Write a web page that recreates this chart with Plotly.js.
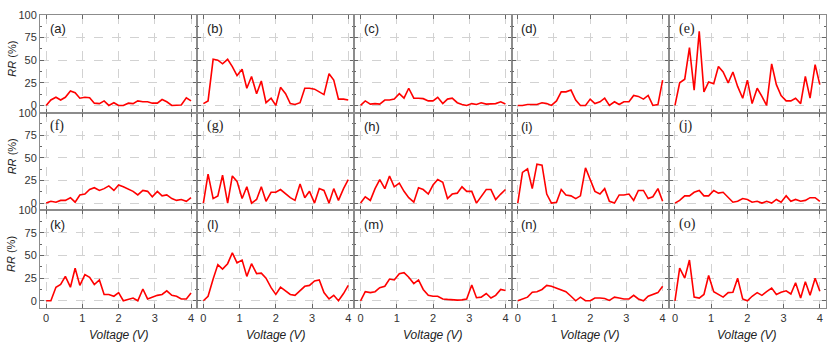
<!DOCTYPE html>
<html lang="en">
<head>
  <meta charset="UTF-8" />
  <title>RR vs Voltage</title>
  <script src="https://cdn.jsdelivr.net/npm/plotly.js-dist@3.0.1/plotly.min.js"></script>
  <style>
    body { margin: 0; background: #fff; }
    #chart { width: 830px; height: 343px; }
  </style>
</head>
<body>
<div id="chart"></div>
<script>
  // voltage steps shared by every panel
  const voltage = [0, 0.13, 0.27, 0.4, 0.53, 0.67, 0.8, 0.93, 1.07, 1.2, 1.33, 1.47, 1.6, 1.73, 1.87, 2,
    2.13, 2.27, 2.4, 2.53, 2.67, 2.8, 2.93, 3.07, 3.2, 3.33, 3.47, 3.6, 3.73, 3.87, 4];

  // RR (%)
  const rrA = [0, 6, 9, 6, 9, 16, 14, 8, 9, 8.5, 2.5, 2, 5, 0, 3, 0, 0, 2.5, 2, 5, 4, 4, 2.5, 2.5, 6.5, 4, 0, 0.5, 0.5, 8.5, 5];
  const rrB = [2, 5, 51, 50, 46, 51, 43, 33, 40, 19, 32, 13, 27, 3, 8, 0, 20, 13, 2, 1, 3, 19, 19, 18, 15, 12, 35, 28, 7, 7, 6];
  const rrC = [0, 5, 1.5, 2, 1.5, 6, 6, 7, 13, 8, 19, 8, 8, 7.5, 5, 5, 9, 2, 7, 8, 3, 1, 0, 2, 1, 3, 1.5, 1.5, 2, 4, 1.5];
  const rrD = [0, 0, 1, 1, 1, 3, 2, 0, 5, 15, 15, 17, 6, 0, 0, 7, 2, 4, 8, 0, 4, 1, 4, 4, 11, 10, 7, 11, 0, 1, 28];
  const rrE = [0, 25, 29, 64, 17, 82, 15, 26, 24, 43, 37, 25, 37, 21, 8, 28, 2, 19, 10, 0, 46, 23, 11, 5, 5, 8, 2, 32, 8, 45, 23];
  const rrF = [0, 2, 1, 3, 3, 6, 1, 9, 10, 15, 17, 14, 16, 19, 14, 20, 18, 15, 13, 9, 14, 13, 7, 13, 8, 9, 5, 3, 4, 2, 6];
  const rrG = [0, 32, 5, 8, 31, 0, 30, 24, 5, 18, 0, 4, 18, 2, 12, 12, 15, 10, 6, 3, 21, 6, 13, 0, 16, 14, 0, 16, 3, 16, 26];
  const rrH = [0, 7, 3, 16, 26, 16, 30, 18, 22, 13, 6, 1, 17, 15, 10, 20, 26, 23, 5, 10, 11, 18, 13, 13, 0, 7, 15, 15, 4, 10, 15];
  const rrI = [0, 34, 38, 16, 43, 42, 10, 0, 1, 15, 9, 8, 5, 8, 39, 27, 13, 10, 16, 2, 0, 9, 9, 10, 3, 14, 14, 5, 7, 16, 2];
  const rrJ = [0, 3, 8, 8, 12, 14, 8, 8, 14, 11, 12, 6, 1, 2, 5, 4, 1, 2, 0, 2, 0, 4, 1, 8, 2, 4, 2, 3, 6, 6, 2];
  const rrK = [0, 0, 15, 18, 27, 15, 36, 17, 29, 26, 18, 23, 7, 7, 5, 9, 0, 2, 3, 0, 13, 2, 4, 6, 7, 11, 6, 5, 2, 2, 8.5];
  const rrL = [0, 5, 24, 40, 35, 41, 53, 42, 45, 27, 41, 30, 30.5, 25, 14.5, 7, 15, 11, 7, 6, 11, 16, 17, 22, 23, 9, 2, 6, 0, 8, 17];
  const rrM = [0, 10, 9, 10, 14.4, 16, 24, 23, 30, 31, 26, 19, 23, 12.5, 6, 5, 5, 2, 1.5, 1, 0.7, 1, 2, 17.4, 3.4, 4, 8, 3, 6, 12.5, 11.4];
  const rrN = [0, 2, 4, 9.5, 10, 12.5, 17, 16, 14, 12, 10, 5, 0, 4, 0, 0, 3, 3, 2.5, 0.4, 4, 3, 2, 2, 6, 2, 0, 5, 7, 9, 16];
  const rrO = [0, 36, 25, 45, 4, 3, 7, 28, 10, 7, 4, 9, 9.5, 25, 2, 0, 5, 9, 6, 10, 14, 7, 9.5, 11, 7.5, 20, 3, 21, 6, 25, 10.5];

  const panelLabels = ['(a)', '(b)', '(c)', '(d)', '(e)', '(f)', '(g)', '(h)', '(i)', '(j)', '(k)', '(l)', '(m)', '(n)', '(o)'];
  const series = [rrA, rrB, rrC, rrD, rrE, rrF, rrG, rrH, rrI, rrJ, rrK, rrL, rrM, rrN, rrO];
  const xTicks = [0, 1, 2, 3, 4];
  const yTicks = [0, 25, 50, 75, 100];

  // a few panel letters are set in a serif face in the original
  const serifLabels = ['(e)', '(f)', '(g)', '(j)', '(o)'];

  const traces = [];
  const layout = {
    width: 830,
    height: 343,
    margin: { l: 40, r: 4, t: 15, b: 35 },
    paper_bgcolor: '#fff',
    plot_bgcolor: '#fff',
    showlegend: false,
    font: { family: 'Liberation Sans, Arial, sans-serif', size: 11, color: '#333' },
    annotations: []
  };

  series.forEach((ys, i) => {
    const row = Math.floor(i / 5);
    const col = i % 5;
    const s = i === 0 ? '' : String(i + 1);

    traces.push({
      x: voltage,
      y: ys,
      xaxis: 'x' + s,
      yaxis: 'y' + s,
      type: 'scatter',
      mode: 'lines',
      line: { color: '#ff0000', width: 1.6 },
      hoverinfo: 'x+y'
    });

    layout['xaxis' + s] = {
      domain: [col / 5, (col + 1) / 5],
      anchor: 'y' + s,
      range: [-0.17, 4.17],
      tickvals: xTicks,
      showticklabels: row === 2,
      ticks: 'inside',
      ticklen: 4,
      tickcolor: '#666',
      showline: true,
      linecolor: '#8c8c8c',
      linewidth: 1,
      mirror: 'ticks',
      showgrid: true,
      gridcolor: '#d2d2d2',
      griddash: 'dash',
      zeroline: false,
      tickfont: { size: 11, color: '#333' }
    };

    layout['yaxis' + s] = {
      domain: [1 - (row + 1) / 3, 1 - row / 3],
      anchor: 'x' + s,
      range: [-8, 100],
      tickvals: yTicks,
      showticklabels: col === 0,
      ticks: 'inside',
      ticklen: 4,
      tickcolor: '#666',
      minor: { dtick: 12.5, tick0: 0, ticks: 'inside', ticklen: 2, tickcolor: '#666', showgrid: false },
      showline: true,
      linecolor: '#8c8c8c',
      linewidth: 1,
      mirror: 'ticks',
      showgrid: true,
      gridcolor: '#d2d2d2',
      griddash: 'dash',
      zeroline: false,
      tickfont: { size: 11, color: '#333' }
    };

    const lbl = panelLabels[i];
    layout.annotations.push({
      text: lbl,
      xref: 'x' + s + ' domain',
      yref: 'y' + s + ' domain',
      x: 0.05,
      y: 0.86,
      xanchor: 'left',
      yanchor: 'middle',
      showarrow: false,
      font: {
        family: serifLabels.includes(lbl) ? 'Liberation Serif, serif' : 'Liberation Sans, Arial, sans-serif',
        size: serifLabels.includes(lbl) ? 14 : 13,
        color: '#222'
      }
    });

    if (col === 0) {
      layout.annotations.push({
        text: '<i>RR</i> (%)',
        xref: 'paper',
        yref: 'y' + s + ' domain',
        x: -0.036,
        y: 0.55,
        textangle: -90,
        xanchor: 'center',
        yanchor: 'middle',
        showarrow: false,
        font: { size: 11, color: '#222' }
      });
    }
    if (row === 2) {
      layout.annotations.push({
        text: '<i>Voltage (V)</i>',
        xref: 'x' + s + ' domain',
        yref: 'paper',
        x: 0.5,
        y: -0.092,
        xanchor: 'center',
        yanchor: 'middle',
        showarrow: false,
        font: { size: 12, color: '#222' }
      });
    }
  });

  Plotly.newPlot('chart', traces, layout, { displayModeBar: false, staticPlot: true });
</script>
</body>
</html>
